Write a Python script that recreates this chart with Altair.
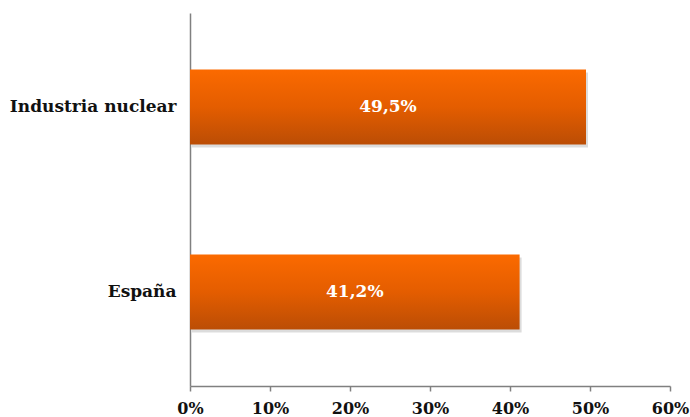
import altair as alt
import pandas as pd

# Share of workforce by sector
categories = ["Industria nuclear", "España"]
values = [49.5, 41.2]
x_ticks = [0, 10, 20, 30, 40, 50, 60]

df = pd.DataFrame({"cat": categories, "v": values})

FONT = "DejaVu Serif"

y_enc = alt.Y(
    "cat:N",
    sort=categories,
    title=None,
    scale=alt.Scale(paddingInner=0.595, paddingOuter=0.305),
    axis=alt.Axis(
        domainColor="#808080", domainWidth=1.5, ticks=False,
        labelFont=FONT, labelFontWeight="bold", labelFontSize=17,
        labelColor="#111111", labelPadding=14, grid=False,
    ),
)
x_enc = alt.X(
    "v:Q",
    title=None,
    scale=alt.Scale(domain=[0, 60], nice=False),
    axis=alt.Axis(
        values=x_ticks, labelExpr="datum.value + '%'",
        labelFlush=False, labelOverlap=False,
        domainColor="#808080", domainWidth=1.5, tickColor="#808080",
        tickSize=5, tickWidth=1.5, grid=False,
        labelFont=FONT, labelFontWeight="bold", labelFontSize=16,
        labelColor="#111111", labelPadding=9,
    ),
)

base = alt.Chart(df)

shadow = base.mark_bar(color="#9a9a9a", opacity=0.35, xOffset=2, yOffset=3).encode(
    x=x_enc, y=y_enc
)

bars = base.mark_bar(
    color=alt.Gradient(
        gradient="linear",
        stops=[
            alt.GradientStop(color="#fb6a00", offset=0),
            alt.GradientStop(color="#e45d00", offset=0.5),
            alt.GradientStop(color="#bb4d05", offset=1),
        ],
        x1=0, x2=0, y1=0, y2=1,
    )
).encode(x=x_enc, y=y_enc)

labels = base.transform_calculate(
    half="datum.v / 2",
    lab="replace(format(datum.v, '.1f'), '.', ',') + '%'",
).mark_text(
    font=FONT, fontWeight="bold", fontSize=17, color="white", baseline="middle"
).encode(
    x=alt.X("half:Q", scale=alt.Scale(domain=[0, 60], nice=False)),
    y=alt.Y("cat:N", sort=categories),
    text="lab:N",
)

chart = (
    alt.layer(shadow, bars, labels)
    .properties(
        width=480, height=373,
        autosize=alt.AutoSizeParams(type="none"),
        padding={"left": 190, "top": 13, "right": 20, "bottom": 31},
        background="white",
    )
    .configure_view(stroke=None)
)

chart.save("out.html", embed_options={"renderer": "svg", "actions": False})
